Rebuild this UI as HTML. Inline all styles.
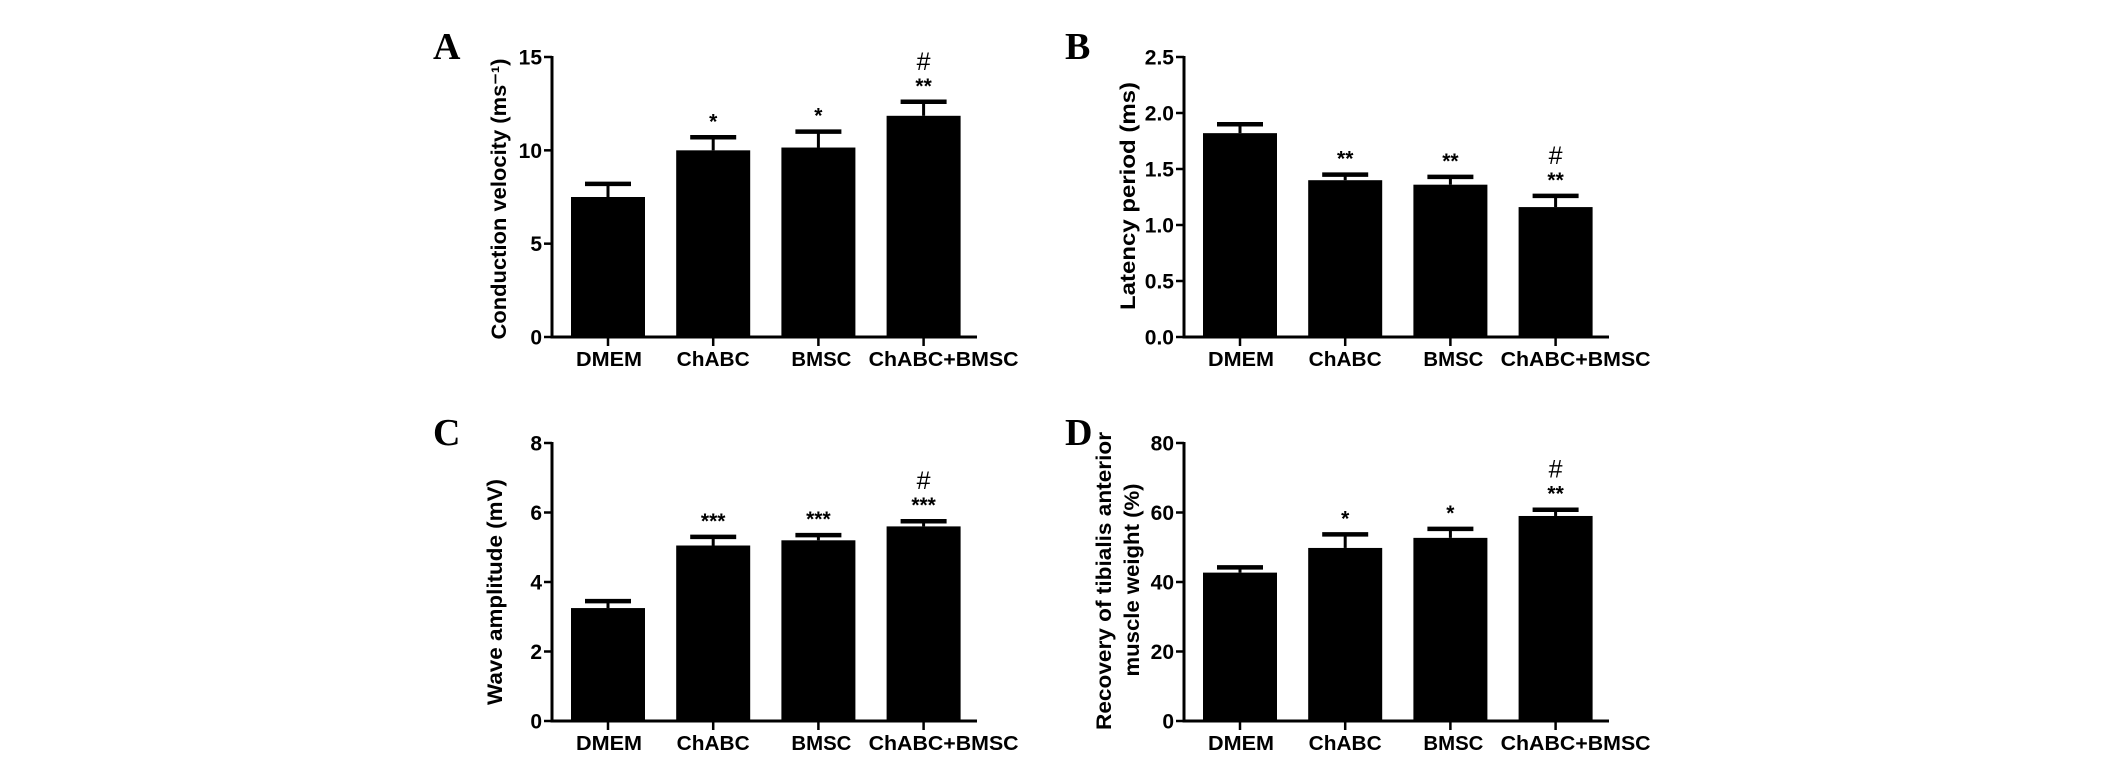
<!DOCTYPE html>
<html><head><meta charset="utf-8"><style>
html,body{margin:0;padding:0;background:#fff}
svg{display:block}
text{font-family:"Liberation Sans",Arial,sans-serif;font-weight:bold;fill:#000}
.letter{font-family:"Liberation Serif",serif;font-size:38px}
</style></head><body>
<svg id="fig" width="2126" height="765" viewBox="0 0 2126 765" xmlns="http://www.w3.org/2000/svg"></svg>
<script>
const categories = ["DMEM","ChABC","BMSC","ChABC+BMSC"];
const valuesA = [7.5, 10.0, 10.15, 11.85];
const errTopA = [8.2, 10.7, 11.0, 12.6];
const marksA = ["", "*", "*", "**"];
const hashA = ["", "", "", "#"];
const ticksA = [0, 5, 10, 15];
const valuesB = [1.82, 1.40, 1.36, 1.16];
const errTopB = [1.90, 1.45, 1.43, 1.26];
const marksB = ["", "**", "**", "**"];
const hashB = ["", "", "", "#"];
const ticksB = ["0.0","0.5","1.0","1.5","2.0","2.5"];
const valuesC = [3.25, 5.05, 5.2, 5.6];
const errTopC = [3.45, 5.3, 5.35, 5.75];
const marksC = ["", "***", "***", "***"];
const hashC = ["", "", "", "#"];
const ticksC = [0, 2, 4, 6, 8];
const valuesD = [42.7, 49.8, 52.7, 59.0];
const errTopD = [44.2, 53.7, 55.3, 60.8];
const marksD = ["", "*", "*", "**"];
const hashD = ["", "", "", "#"];
const ticksD = [0, 20, 40, 60, 80];

const NS = "http://www.w3.org/2000/svg";
const svg = document.getElementById("fig");
function mk(tag, attrs, parent){
  const e = document.createElementNS(NS, tag);
  for (const k in attrs) e.setAttribute(k, attrs[k]);
  (parent||svg).appendChild(e);
  return e;
}
const labelLens = [66, 73, 60, 150];
const labelShift = [1, 0, 3, 20];

function panel(cfg){
  const g = mk("g", {});
  
  
  const ymax = parseFloat(cfg.ticks[cfg.ticks.length-1]);
  const y = v => cfg.y0 - (v / ymax) * (cfg.y0 - cfg.yTop);
  const x = i => cfg.ax + 56 + i * 105.2;
  const L = mk("text", {x: cfg.ax - 119, y: cfg.yTop + 2, class: "letter"}, g);
  L.textContent = cfg.id;
  
  
  cfg.values.forEach((v, i) => {
    const b = mk("rect", {x: x(i) - 37, y: y(v), width: 74, height: cfg.y0 - y(v), fill: "#000"}, g);
    
    
    const et = y(cfg.err[i]);
    const el = mk("line", {x1: x(i), x2: x(i), y1: y(v), y2: et, stroke: "#000", "stroke-width": 3}, g);
    
    
    const cap = mk("line", {x1: x(i) - 23, x2: x(i) + 23, y1: et, y2: et, stroke: "#000", "stroke-width": 4.5}, g);
    
    
    if (cfg.marks[i]) {
      const s = mk("text", {x: x(i), y: et - 9, "text-anchor": "middle", "font-size": 21}, g);
      s.textContent = cfg.marks[i];
      
      
    }
    if (cfg.hash[i]) {
      const h = mk("text", {x: x(i), y: et - 32, "text-anchor": "middle", "font-size": 25, style: "font-weight:normal"}, g);
      h.textContent = cfg.hash[i];
      
      
    }
    const t = mk("line", {x1: x(i), x2: x(i), y1: cfg.y0, y2: cfg.y0 + 9, stroke: "#000", "stroke-width": 2.5}, g);
    
    
    const lb = mk("text", {x: x(i) + labelShift[i], y: cfg.y0 + 29, "text-anchor": "middle", "font-size": 20, textLength: labelLens[i], lengthAdjust: "spacingAndGlyphs"}, g);
    lb.textContent = categories[i];
    
    
  });
  const ya = mk("line", {x1: cfg.ax, x2: cfg.ax, y1: cfg.yTop - 1, y2: cfg.y0 + 1.5, stroke: "#000", "stroke-width": 3}, g);
  
  
  const xa = mk("line", {x1: cfg.ax - 1.5, x2: cfg.ax + 425, y1: cfg.y0, y2: cfg.y0, stroke: "#000", "stroke-width": 3}, g);
  
  
  cfg.ticks.forEach(tv => {
    const yy = y(parseFloat(tv));
    const t = mk("line", {x1: cfg.ax - 8, x2: cfg.ax, y1: yy, y2: yy, stroke: "#000", "stroke-width": 2.5}, g);
    
    
    const tl = mk("text", {x: cfg.ax - 10, y: yy + 7.5, "text-anchor": "end", "font-size": 21}, g);
    tl.textContent = tv;
    
    
  });
  cfg.titles.forEach(tt => {
    const ty = mk("text", {x: 0, y: 0, "text-anchor": "middle", "font-size": 21, textLength: tt.len, lengthAdjust: "spacingAndGlyphs",
      transform: "translate(" + tt.x + "," + tt.cy + ") rotate(-90)"}, g);
    ty.textContent = tt.text;
    
    
  });
}

panel({id:"A", ax:552, yTop:57, y0:337, values:valuesA, err:errTopA, marks:marksA, hash:hashA, ticks:ticksA,
  titles:[{text:"Conduction velocity (ms\u207B\u00B9)", x:506, cy:199, len:281}]});
panel({id:"B", ax:1184, yTop:57, y0:337, values:valuesB, err:errTopB, marks:marksB, hash:hashB, ticks:ticksB,
  titles:[{text:"Latency period (ms)", x:1135, cy:196, len:228}]});
panel({id:"C", ax:552, yTop:443, y0:721, values:valuesC, err:errTopC, marks:marksC, hash:hashC, ticks:ticksC,
  titles:[{text:"Wave amplitude (mV)", x:502, cy:592, len:226}]});
panel({id:"D", ax:1184, yTop:443, y0:721, values:valuesD, err:errTopD, marks:marksD, hash:hashD, ticks:ticksD,
  titles:[{text:"Recovery of tibialis anterior", x:1111, cy:581, len:298},{text:"muscle weight (%)", x:1139, cy:580, len:193}]});
</script>
</body></html>
